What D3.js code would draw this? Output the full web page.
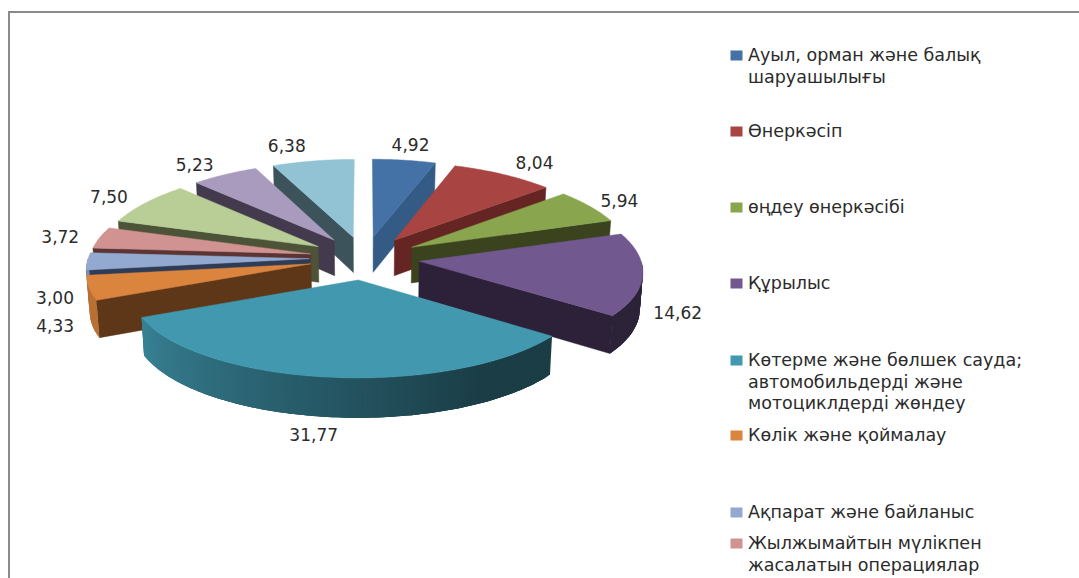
<!DOCTYPE html>
<html>
  <head>
    <meta charset="utf-8" />
    <title>Pie</title>
    <script src="https://d3js.org/d3.v7.min.js"></script>
    <style>
        body { margin: 0; background: #fff; }
        text { font-family: "DejaVu Sans", sans-serif; fill: #2b2b2b; }
    </style>
  </head>
  <body>
    <svg id="chart" width="1079" height="578"></svg>

    <script>
        // slice values, clockwise from the top
        var values = [4.92, 8.04, 5.94, 14.62, 31.77, 4.33, 3.00, 3.72, 7.50, 5.23, 6.38];
        var labels = ["4,92", "8,04", "5,94", "14,62", "31,77", "4,33", "3,00", "3,72", "7,50", "5,23", "6,38"];
        var topColors = ["#4471a6", "#a84442", "#89a54e", "#71588f", "#4198af", "#db843d", "#93a9cf", "#d19392", "#b9cd96", "#a99bbd", "#91c3d5"];
        var sideColors = ["#345b85", "#652523", "#3a431e", "#2c2138", "#1a3c47", "#5e3618", "#2f3c57", "#5c3434", "#4c5337", "#433b4d", "#3c535c"];

        // legend is cut off by the image edge, only 8 entries show
        var legendLines = [
            ["Ауыл, орман және балық", "шаруашылығы"],
            ["Өнеркәсіп"],
            ["өңдеу өнеркәсібі"],
            ["Құрылыс"],
            ["Көтерме және бөлшек сауда;", "автомобильдерді және", "мотоциклдерді жөндеу"],
            ["Көлік және қоймалау"],
            ["Ақпарат және байланыс"],
            ["Жылжымайтын мүлікпен", "жасалатын операциялар"]
        ];
        var legendTop = [55, 131, 207, 283, 360, 435, 512, 543];

        // hand placement of the value labels, as in the original
        var labelNudge = [[3, -22], [19, -20], [9, -17], [7, 18], [-12, 24], [-6, 16], [-5, 18], [-14, -16], [-16, -18], [-18, -18], [-22, -22]];

        var cx = 364.5, cy = 258;
        var perspectiveX = 0.1, perspectiveY = 0.077;
        var explode = 0.25;
        var depth = 36;
        var labelFont = 17, legendFont = 17.5;

        var x = d3.scaleLinear().domain([-1, 1]).range([cx - 221, cx + 221]);
        var y = d3.scaleLinear().domain([-1, 1]).range([cy - 86.8, cy + 86.8]);

        var svg = d3.select("#chart");

        // frame, only top and left show
        svg.append("path")
            .attr("d", "M9,578V12H1079")
            .attr("fill", "none")
            .attr("stroke", "#8a8a8a")
            .attr("stroke-width", 2);

        function project(u, v, z) {
            var sx = 1 / (1 - perspectiveX * v);
            var sy = 1 / (1 - perspectiveY * v);
            var px = x(u * sx);
            return [cx + (px - cx) * (1 - 0.011 * z), y(v * sy) + z * depth * sy];
        }

        var arcs = d3.pie().sort(null)(values);
        var line = d3.line();

        arcs.forEach(function(d, i) {
            d.i = i;
            d.mid = (d.startAngle + d.endAngle) / 2;
            d.u0 = explode * Math.sin(d.mid);
            d.v0 = -explode * Math.cos(d.mid);
        });

        function edge(d, a, z) {
            return project(d.u0 + Math.sin(a), d.v0 - Math.cos(a), z);
        }

        // lighter towards the left of the curved wall, dark on the right
        var shade = d3.scaleLinear()
            .domain([150, 246])
            .range([0.4, 0.85])
            .clamp(true);

        function addFace(g, pts, color, stroked) {
            g.append("path")
                .attr("d", line(pts) + "Z")
                .attr("fill", color)
                .attr("stroke", stroked ? color : "none")
                .attr("stroke-width", 0.5)
                .attr("stroke-linejoin", "round");
        }

        var order = arcs.slice().sort(function(a, b) {
            return a.v0 - b.v0;
        });

        order.forEach(function(d) {
            var g = svg.append("g");
            var apexTop = project(d.u0, d.v0, 0);
            var apexBottom = project(d.u0, d.v0, 1);
            var a0 = d.startAngle, a1 = d.endAngle;

            if (Math.sin(a0) < 0) {
                addFace(g, [apexTop, edge(d, a0, 0), edge(d, a0, 1), apexBottom], sideColors[d.i], true);
            }
            if (Math.sin(a1) > 0) {
                addFace(g, [apexTop, edge(d, a1, 0), edge(d, a1, 1), apexBottom], sideColors[d.i], true);
            }

            // curved wall as thin strips, each one running over the next so no seams show
            var lo = Math.max(a0, Math.PI / 2), hi = Math.min(a1, Math.PI * 1.5);
            if (hi > lo) {
                var n = Math.ceil((hi - lo) / 0.02);
                d3.range(n).forEach(function(j) {
                    var b0 = lo + (hi - lo) * j / n;
                    var b1 = lo + (hi - lo) * Math.min(j + 3, n) / n;
                    var base = d3.rgb(topColors[d.i]);
                    var f = shade((lo + (hi - lo) * (j + 0.5) / n) * 180 / Math.PI);
                    var c = d3.rgb(base.r * f, base.g * f, base.b * f).formatHex();
                    var wall = d3.range(0, 4).map(function(k) {
                        return edge(d, b0 + (b1 - b0) * k / 3, 0);
                    }).concat(d3.range(3, -1, -1).map(function(k) {
                        return edge(d, b0 + (b1 - b0) * k / 3, 1);
                    }));
                    addFace(g, wall, c, false);
                });
            }

            var rim = d3.range(0, 41).map(function(j) {
                return edge(d, a0 + (a1 - a0) * j / 40, 0);
            });
            addFace(g, [apexTop].concat(rim), topColors[d.i], true);
        });

        // value labels just outside the rim
        function labelPoint(d, i) {
            var p = project(d.u0 + 1.13 * Math.sin(d.mid), d.v0 - 1.13 * Math.cos(d.mid), 0.5);
            return [p[0] + labelNudge[i][0], p[1] + labelNudge[i][1]];
        }

        svg.selectAll(".value")
            .data(arcs)
            .enter().append("text")
            .attr("class", "value")
            .attr("text-anchor", "middle")
            .attr("dominant-baseline", "central")
            .attr("font-size", labelFont)
            .attr("x", function(d, i) { return labelPoint(d, i)[0]; })
            .attr("y", function(d, i) { return labelPoint(d, i)[1]; })
            .text(function(d, i) { return labels[i]; });

        var legend = svg.selectAll(".legend")
            .data(legendLines)
            .enter().append("g")
            .attr("class", "legend");

        legend.append("rect")
            .attr("x", 730.5)
            .attr("y", function(d, i) { return legendTop[i] - 4.5; })
            .attr("width", 12)
            .attr("height", 10)
            .attr("fill", function(d, i) { return topColors[i]; });

        legend.each(function(d, i) {
            d3.select(this).selectAll("text")
                .data(d)
                .enter().append("text")
                .attr("x", 748)
                .attr("y", function(t, j) { return legendTop[i] + j * 21.7; })
                .attr("dominant-baseline", "central")
                .attr("font-size", legendFont)
                .text(function(t) { return t; });
        });
    </script>
  </body>
</html>
